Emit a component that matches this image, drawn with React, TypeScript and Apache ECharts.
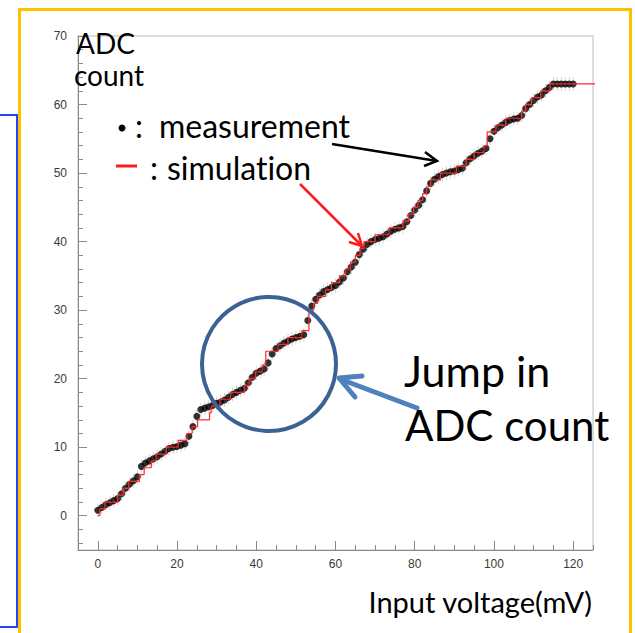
import React, { useEffect, useRef } from "react";
import * as echarts from "echarts";

// Input voltage scan (mV) and averaged ADC output at each step
const inputVoltages = [
  0, 1, 2, 3, 4, 5, 6, 7, 8, 9,
  10, 11, 12, 13, 14, 15, 16, 17, 18, 19,
  20, 21, 22, 23, 24, 25, 26, 27, 28, 29,
  30, 31, 32, 33, 34, 35, 36, 37, 38, 39,
  40, 41, 42, 43, 44, 45, 46, 47, 48, 49,
  50, 51, 52, 53, 54, 55, 56, 57, 58, 59,
  60, 61, 62, 63, 64, 65, 66, 67, 68, 69,
  70, 71, 72, 73, 74, 75, 76, 77, 78, 79,
  80, 81, 82, 83, 84, 85, 86, 87, 88, 89,
  90, 91, 92, 93, 94, 95, 96, 97, 98, 99,
  100, 101, 102, 103, 104, 105, 106, 107, 108, 109,
  110, 111, 112, 113, 114, 115, 116, 117, 118, 119,
  120,
];

const measuredCounts = [
  0.8, 1.2, 1.6, 1.9, 2.2, 2.5, 3.2, 4.0, 4.6, 5.1,
  5.7, 7.2, 7.7, 8.0, 8.3, 8.6, 9.0, 9.4, 9.8, 10.0,
  10.1, 10.3, 10.5, 11.6, 13.0, 14.5, 15.5, 15.7, 15.9, 16.1,
  16.4, 16.6, 16.9, 17.3, 17.7, 18.0, 18.3, 18.6, 19.4, 20.2,
  20.8, 21.1, 21.4, 22.3, 23.6, 24.4, 24.8, 25.2, 25.5, 25.8,
  26.0, 26.2, 26.4, 28.5, 30.6, 31.6, 32.2, 32.7, 33.0, 33.3,
  33.6, 34.1, 34.7, 35.6, 36.3, 37.0, 38.1, 38.9, 39.6, 40.0,
  40.3, 40.5, 40.7, 41.1, 41.5, 41.8, 42.0, 42.2, 42.9, 43.8,
  44.6, 45.3, 46.1, 47.4, 48.5, 49.1, 49.5, 49.8, 50.0, 50.2,
  50.3, 50.5, 50.7, 51.5, 52.1, 52.5, 52.9, 53.2, 53.6, 55.0,
  56.1, 56.6, 57.0, 57.4, 57.7, 57.9, 58.0, 58.4, 59.4, 60.0,
  60.6, 61.1, 61.4, 62.0, 62.5, 63.0, 63.0, 63.0, 63.0, 63.0,
  63.0,
];

// Spread drawn around each measured point
const measurementError = 1.0;

// Simulated ADC transfer curve: voltage at which each count begins
const simVoltages = [
  0, 0.5, 1.8, 5.0, 6.4, 7.8, 10.5, 11.7, 13.5, 14.7,
  17.3, 20.3, 22.5, 23.8, 25.2, 28.2, 28.6, 30.8, 33.5, 37.0,
  38.2, 39.8, 41.5, 42.4, 42.4, 45.5, 48.0, 51.5, 53.3, 53.3,
  53.3, 54.5, 55.5, 57.5, 59.0, 61.0, 62.5, 63.8, 65.0, 66.2,
  67.2, 70.0, 73.5, 77.0, 78.5, 79.7, 80.8, 82.0, 83.0, 84.0,
  86.5, 90.5, 93.0, 95.0, 97.5, 98.3, 98.3, 100.5, 103.0, 107.0,
  108.0, 109.5, 111.8, 114.2, 127,
];
const simCounts = [
  0, 1, 2, 3, 4, 5, 6, 7, 8, 9,
  10, 11, 12, 13, 14, 15, 16, 17, 18, 19,
  20, 21, 22, 23, 24, 25, 26, 27, 28, 29,
  30, 31, 32, 33, 34, 35, 36, 37, 38, 39,
  40, 41, 42, 43, 44, 45, 46, 47, 48, 49,
  50, 51, 52, 53, 54, 55, 56, 57, 58, 59,
  60, 61, 62, 63, 63,
];

// Axis ticks
const xMajorTicks = [0, 20, 40, 60, 80, 100, 120];
const xMinorTicks = [
  5, 10, 15, 25, 30, 35, 45, 50, 55, 65, 70, 75, 85, 90, 95, 105, 110, 115, 125,
];
const yMajorTicks = [0, 10, 20, 30, 40, 50, 60, 70];
const yMinorTicks = [
  -4, -2, 2, 4, 6, 8, 12, 14, 16, 18, 22, 24, 26, 28, 32, 34, 36, 38,
  42, 44, 46, 48, 52, 54, 56, 58, 62, 64, 66, 68,
];

const X_MIN = -5;
const X_MAX = 125;
const Y_MIN = -5;
const Y_MAX = 70;

const AXIS_GREY = "#8a8a8a";
const TITLE_FONT = "Lato, 'Open Sans', sans-serif";

export default function App() {
  const ref = useRef<HTMLDivElement>(null);

  useEffect(() => {
    if (!ref.current) return;
    const chart = echarts.init(ref.current, null, { renderer: "svg" });

    const measuredPoints = inputVoltages.map((v, i) => [v, measuredCounts[i]]);
    const simPoints = simVoltages.map((v, i) => [v, simCounts[i]]);

    const tickLabel = {
      color: "#3a3a3a",
      fontFamily: "'Liberation Sans', Arial, sans-serif",
      fontSize: 12,
    };

    const xBase = {
      type: "value",
      min: X_MIN,
      max: X_MAX,
      position: "bottom",
      splitLine: { show: false },
    };
    const yBase = {
      type: "value",
      min: Y_MIN,
      max: Y_MAX,
      position: "left",
      splitLine: { show: false },
    };

    const text = (
      str: string,
      x: number,
      y: number,
      size: number,
      align: string = "left",
      fill: string = "#000"
    ) => ({
      type: "text",
      x,
      y,
      z: 100,
      style: {
        text: str,
        font: `${size}px ${TITLE_FONT}`,
        fill,
        align,
        verticalAlign: "middle",
        textAlign: align,
        textVerticalAlign: "middle",
      },
    });

    const option: any = {
      animation: false,
      backgroundColor: "#ffffff",
      grid: {
        left: 78,
        top: 36,
        width: 515,
        height: 514,
        show: true,
        borderColor: "#d4d4d4",
        borderWidth: 1.5,
        backgroundColor: "transparent",
      },
      xAxis: [
        {
          ...xBase,
          axisLine: { show: true, onZero: false, lineStyle: { color: AXIS_GREY, width: 1 } },
          axisTick: {
            show: true,
            inside: true,
            length: 9,
            customValues: xMajorTicks,
            lineStyle: { color: AXIS_GREY },
          },
          axisLabel: { ...tickLabel, margin: 8, customValues: xMajorTicks },
        },
        {
          ...xBase,
          axisLine: { show: false, onZero: false },
          axisTick: {
            show: true,
            inside: true,
            length: 5,
            customValues: xMinorTicks,
            lineStyle: { color: AXIS_GREY },
          },
          axisLabel: { show: false },
        },
      ],
      yAxis: [
        {
          ...yBase,
          axisLine: { show: true, onZero: false, lineStyle: { color: AXIS_GREY, width: 1 } },
          axisTick: {
            show: true,
            inside: true,
            length: 9,
            customValues: yMajorTicks,
            lineStyle: { color: AXIS_GREY },
          },
          axisLabel: { ...tickLabel, margin: 11, customValues: yMajorTicks },
        },
        {
          ...yBase,
          axisLine: { show: false, onZero: false },
          axisTick: {
            show: true,
            inside: true,
            length: 5,
            customValues: yMinorTicks,
            lineStyle: { color: AXIS_GREY },
          },
          axisLabel: { show: false },
        },
      ],
      series: [
        {
          name: "error",
          type: "custom",
          xAxisIndex: 0,
          yAxisIndex: 0,
          silent: true,
          z: 1,
          renderItem: (_params: any, api: any) => {
            const x = api.value(0);
            const y = api.value(1);
            const lo = api.coord([x, y - measurementError]);
            const hi = api.coord([x, y + measurementError]);
            return {
              type: "line",
              shape: { x1: lo[0], y1: lo[1], x2: hi[0], y2: hi[1] },
              style: { stroke: "#d2d2d2", lineWidth: 1 },
            };
          },
          data: measuredPoints,
        },
        {
          name: "measurement",
          type: "scatter",
          xAxisIndex: 0,
          yAxisIndex: 0,
          symbol: "circle",
          symbolSize: 7,
          itemStyle: { color: "#000000" },
          z: 2,
          data: measuredPoints,
        },
        {
          name: "simulation",
          type: "line",
          xAxisIndex: 0,
          yAxisIndex: 0,
          step: "end",
          showSymbol: false,
          clip: false,
          lineStyle: { color: "#ff2a2a", width: 1.2 },
          z: 3,
          data: simPoints,
        },
      ],
      graphic: [
        // slide frames
        {
          type: "rect",
          z: 90,
          shape: { x: 19.5, y: 9.5, width: 611, height: 640 },
          style: { fill: "none", stroke: "#FFC000", lineWidth: 3 },
        },
        {
          type: "polyline",
          z: 90,
          shape: { points: [[-2, 115], [17, 115], [17, 627], [-2, 627]] },
          style: { fill: "none", stroke: "#2244ff", lineWidth: 2 },
        },
        // axis titles
        text("ADC", 76, 43, 28),
        text("count", 74, 75, 28),
        text("Input voltage(mV)", 592, 601, 29, "right"),
        // legend
        {
          type: "circle",
          z: 100,
          shape: { cx: 122, cy: 128, r: 3.5 },
          style: { fill: "#000" },
        },
        text(":", 135, 125, 32),
        text("measurement", 159, 125, 32),
        {
          type: "line",
          z: 100,
          shape: { x1: 116, y1: 166, x2: 137, y2: 166 },
          style: { stroke: "#ff1a1a", lineWidth: 3 },
        },
        text(":", 150, 167, 32),
        text("simulation", 167, 167, 32),
        // pointer arrows
        {
          type: "polyline",
          z: 100,
          shape: { points: [[332, 144], [437, 161]] },
          style: { fill: "none", stroke: "#000", lineWidth: 2.5 },
        },
        {
          type: "polyline",
          z: 100,
          shape: { points: [[425, 152], [437, 161], [424, 166]] },
          style: { fill: "none", stroke: "#000", lineWidth: 2.5 },
        },
        {
          type: "polyline",
          z: 100,
          shape: { points: [[300, 184], [362, 246]] },
          style: { fill: "none", stroke: "#ff1a1a", lineWidth: 2.5 },
        },
        {
          type: "polyline",
          z: 100,
          shape: { points: [[349, 242], [362, 246], [358, 233]] },
          style: { fill: "none", stroke: "#ff1a1a", lineWidth: 2.5 },
        },
        // highlighted region
        {
          type: "circle",
          z: 100,
          shape: { cx: 269, cy: 364, r: 67 },
          style: { fill: "none", stroke: "#3b6294", lineWidth: 4 },
        },
        {
          type: "polyline",
          z: 100,
          shape: { points: [[417, 408], [340, 379]] },
          style: { fill: "none", stroke: "#4f81bd", lineWidth: 5, lineCap: "round" },
        },
        {
          type: "polyline",
          z: 100,
          shape: { points: [[362, 376], [339, 378], [355, 397]] },
          style: {
            fill: "none",
            stroke: "#4f81bd",
            lineWidth: 5,
            lineCap: "round",
            lineJoin: "round",
          },
        },
        text("Jump in", 404, 370, 43),
        text("ADC count", 405, 425, 42),
      ],
    };

    chart.setOption(option);
    return () => chart.dispose();
  }, []);

  return (
    <>
      <style>
        {"svg text { font-variant-ligatures: none !important; font-feature-settings: 'liga' 0, 'clig' 0 !important; }"}
      </style>
      <div
        ref={ref}
        style={{
          position: "fixed",
          left: 0,
          top: 0,
          width: 635,
          height: 633,
          background: "#ffffff",
        }}
      />
    </>
  );
}
